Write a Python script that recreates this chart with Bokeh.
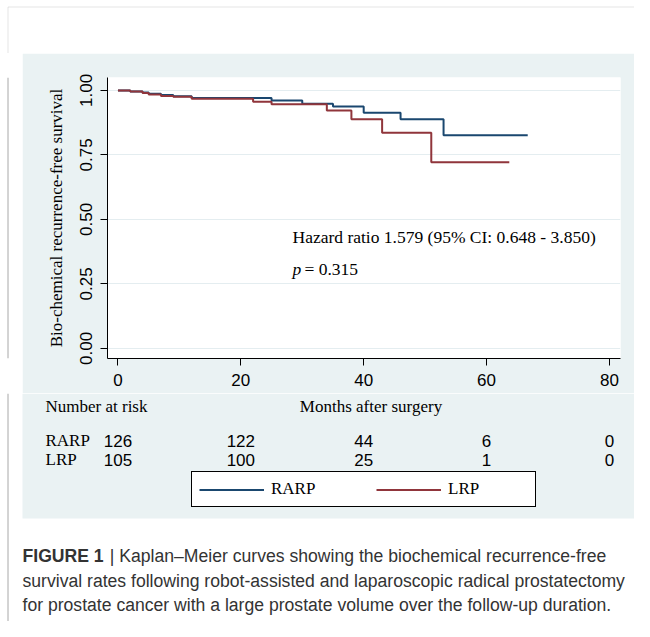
from bokeh.plotting import figure
from bokeh.layouts import column, row
from bokeh.models import Range1d, FixedTicker, Label, BoxAnnotation, Legend, LegendItem, Span
from bokeh.embed import file_html
from bokeh.resources import INLINE

# ---- data ----
rarp_time = [0, 2, 4, 5, 7, 9, 12, 25, 30, 35, 40, 46, 53, 66.7]
rarp_surv = [1.0, 0.996, 0.992, 0.987, 0.982, 0.977, 0.971, 0.961, 0.948, 0.938, 0.913, 0.888, 0.826, 0.826]
lrp_time = [0, 2, 4, 5, 7, 9, 12, 22, 25, 34, 38, 43, 51, 63.7]
lrp_surv = [1.0, 0.996, 0.990, 0.984, 0.978, 0.975, 0.968, 0.956, 0.946, 0.922, 0.888, 0.836, 0.722, 0.722]
risk_times = [0, 20, 40, 60, 80]
risk_rarp = [126, 122, 44, 6, 0]
risk_lrp = [105, 100, 25, 1, 0]
x_ticks = [0, 20, 40, 60, 80]
y_ticks = [0.0, 0.25, 0.5, 0.75, 1.0]
y_tick_labels = ["0.00", "0.25", "0.50", "0.75", "1.00"]
series_names = ["RARP", "LRP"]
series_colors = ["#1a476f", "#90353b"]
caption_bold = "FIGURE 1"
caption_lines = [
    "| Kaplan\u2013Meier curves showing the biochemical recurrence-free",
    "survival rates following robot-assisted and laparoscopic radical prostatectomy",
    "for prostate cancer with a large prostate volume over the follow-up duration.",
]

PANEL = "#eaf2f3"
FRAME_GREY = "#a8a8a8"
SERIF = "Liberation Serif"
SANS = "Liberation Sans"

W, H = 634, 621
TOP_H = 53          # white strip above the grey panel
LEFT_W = 22         # white strip left of the panel
MID_H = 340         # panel part holding the KM plot (page y 53..393)
BOT_H = H - TOP_H - MID_H
X_RANGE = (-1.7, 81.8)
Y_RANGE = (-0.039, 1.05)
FR_L, FR_R, FR_T, FR_B = 107, 620, 77, 358   # plot frame in page pixels
BASE_FIX = 6        # Label anchor vs. visual baseline correction (px)


def blank(width, height, x0, x1, y0, y1):
    return figure(width=width, height=height, x_range=Range1d(x0, x1), y_range=Range1d(y1, y0),
                  x_axis_type=None, y_axis_type=None, output_backend="svg", toolbar_location=None,
                  min_border=0, min_border_left=0, min_border_right=0, min_border_top=0,
                  min_border_bottom=0, background_fill_color="white", border_fill_color="white",
                  outline_line_color=None)

# ---------- top white strip with the grey box edge ----------
top = blank(W, TOP_H, 0, W, 0, TOP_H)
top.add_layout(BoxAnnotation(left=7.5, right=W + 50, top=6.5, bottom=TOP_H + 50,
                             fill_color=None, fill_alpha=0, line_color=FRAME_GREY, line_width=1))

# ---------- left white strip ----------
left = blank(LEFT_W, MID_H, 0, LEFT_W, TOP_H, TOP_H + MID_H)
left.add_layout(Span(location=7.5, dimension="height", line_color=FRAME_GREY, line_width=1))

# ---------- Kaplan-Meier plot ----------
km = figure(width=W - LEFT_W, height=MID_H,
            x_range=Range1d(*X_RANGE), y_range=Range1d(*Y_RANGE),
            output_backend="svg", toolbar_location=None,
            min_border_left=FR_L - LEFT_W, min_border_right=W - FR_R,
            min_border_top=FR_T - TOP_H, min_border_bottom=TOP_H + MID_H - FR_B,
            background_fill_color="white", border_fill_color=PANEL,
            outline_line_color=None)

km.xgrid.visible = False
km.ygrid.ticker = FixedTicker(ticks=y_ticks)
km.ygrid.grid_line_color = "#e4edf0"
km.ygrid.grid_line_width = 1

for ax in (km.xaxis[0], km.yaxis[0]):
    ax.axis_line_color = "black"
    ax.axis_line_width = 1
    ax.major_tick_line_color = "black"
    ax.major_tick_out = 7
    ax.major_tick_in = 0
    ax.minor_tick_line_color = None
    ax.major_label_text_color = "black"
    ax.major_label_text_font = SANS
    ax.axis_label_text_font = SERIF
    ax.axis_label_text_font_size = "17px"
    ax.axis_label_text_font_style = "normal"
    ax.axis_label_text_color = "black"

km.xaxis.ticker = FixedTicker(ticks=x_ticks)
km.xaxis.major_label_text_font_size = "17px"
km.xaxis.major_label_standoff = 8

km.yaxis.ticker = FixedTicker(ticks=y_ticks)
km.yaxis.major_label_overrides = {t: s for t, s in zip(y_ticks, y_tick_labels)}
km.yaxis.major_label_orientation = "vertical"
km.yaxis.major_label_text_font_size = "17px"
km.yaxis.major_label_standoff = 8
km.yaxis.axis_label = "Bio-chemical recurrence-free survival"
km.yaxis.axis_label_standoff = 12

r1 = km.step(rarp_time, rarp_surv, mode="after", line_color=series_colors[0], line_width=2)
r2 = km.step(lrp_time, lrp_surv, mode="after", line_color=series_colors[1], line_width=2)


def km_lab(X, Y, text, style="normal"):
    # X, Y in page pixels -> frame-relative screen units
    km.add_layout(Label(x=X - FR_L, y=FR_B - (Y - BASE_FIX), x_units="screen", y_units="screen",
                        text=text, text_font=SERIF, text_font_size="17.5px",
                        text_font_style=style, text_baseline="alphabetic", text_color="black"))

km_lab(292, 242, "Hazard ratio 1.579 (95% CI: 0.648 - 3.850)")
km_lab(292, 274, "p", style="italic")
km_lab(304, 274, "= 0.315")

# ---------- bottom part: risk table, legend, caption ----------
# x data range aligned with the KM plot's x scale, so counts sit under the ticks
px_per_unit = (FR_R - FR_L) / (X_RANGE[1] - X_RANGE[0])
bx0 = X_RANGE[0] - FR_L / px_per_unit
bx1 = X_RANGE[1] + (W - FR_R) / px_per_unit
y_top = TOP_H + MID_H
bot = figure(width=W, height=BOT_H, x_range=Range1d(bx0, bx1), y_range=Range1d(H, y_top),
             x_axis_type=None, y_axis_type=None, output_backend="svg", toolbar_location=None,
             min_border=0, min_border_left=0, min_border_right=0, min_border_top=0,
             min_border_bottom=0, background_fill_color="white", border_fill_color="white",
             outline_line_color=None)
bot.add_layout(BoxAnnotation(left=LEFT_W, left_units="screen", right=None, top=y_top, bottom=518,
                             fill_color=PANEL, fill_alpha=1, line_color=None, level="underlay"))
bot.add_layout(Span(location=bx0 + 7.5 / px_per_unit, dimension="height",
                    line_color=FRAME_GREY, line_width=1))


def lab(X, Y, text, font=SERIF, size="17px", style="normal", align="left", color="black",
        x_units="screen"):
    bot.add_layout(Label(x=X, y=Y - BASE_FIX, x_units=x_units, y_units="data", text=text,
                         text_font=font, text_font_size=size, text_font_style=style,
                         text_align=align, text_baseline="alphabetic", text_color=color))

lab(45, 412, "Number at risk")
lab(370.5, 412, "Months after surgery", align="center")
for row_y, name, counts in [(446, series_names[0], risk_rarp), (465, series_names[1], risk_lrp)]:
    lab(45, row_y, name)
    for t, n in zip(risk_times, counts):
        lab(t, row_y, str(n), font=SANS, align="center", x_units="data")

# legend (its glyphs mirror the two KM curves; the lines themselves hold no visible points)
nan = float("nan")
d1 = bot.line(x=[nan], y=[nan], line_color=series_colors[0], line_width=2)
d2 = bot.line(x=[nan], y=[nan], line_color=series_colors[1], line_width=2)
legend = Legend(items=[LegendItem(label=series_names[0], renderers=[d1]),
                       LegendItem(label=series_names[1], renderers=[d2])],
                location=(191, H - 507), orientation="horizontal",
                padding=7, spacing=25, margin=0,
                glyph_width=65, glyph_height=19, label_width=80, label_height=19,
                label_standoff=7,
                label_text_font=SERIF, label_text_font_size="17px", label_text_color="black",
                border_line_color="black", border_line_alpha=1, border_line_width=1.3,
                background_fill_color="white", background_fill_alpha=1)
bot.add_layout(legend)

# caption
CAP_FS = 17.6
cap_color = "#333333"
cap_base = [561, 586, 610]
lab(22, cap_base[0], caption_bold, font=SANS, size=f"{CAP_FS}px", style="bold", color=cap_color)
lab(22 + (4.612 + 0.35) * CAP_FS, cap_base[0], caption_lines[0], font=SANS,
    size=f"{CAP_FS}px", color=cap_color)
lab(22, cap_base[1], caption_lines[1], font=SANS, size=f"{CAP_FS}px", color=cap_color)
lab(22, cap_base[2], caption_lines[2], font=SANS, size=f"{CAP_FS}px", color=cap_color)

layout = column(top, row(left, km), bot)
open("out.html", "w").write(file_html(layout, INLINE))
